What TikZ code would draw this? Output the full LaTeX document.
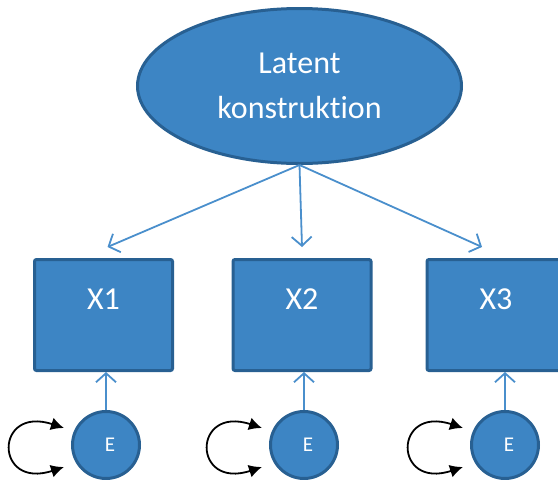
\documentclass[tikz,border=0pt]{standalone}
\usepackage{fontspec}
\setmainfont{Carlito}[Ligatures=NoCommon]
\usepackage{xcolor}
\usetikzlibrary{shapes.geometric,arrows.meta}
\definecolor{boxfill}{RGB}{61,133,196}
\definecolor{boxedge}{RGB}{40,96,146}
\definecolor{arrowblue}{RGB}{74,143,204}

\begin{document}
\begin{tikzpicture}[x=1pt,y=-1pt,
  latent/.style={ellipse,draw=boxedge,fill=boxfill,line width=3pt,minimum width=324pt,minimum height=155pt,inner sep=0pt,align=center,text=white,font=\fontsize{32}{45}\selectfont},
  obs/.style={rectangle,draw=boxedge,fill=boxfill,line width=3pt,rounded corners=2pt,minimum width=138pt,minimum height=111pt,text height=21pt,text depth=33pt,text=white,font=\fontsize{32}{38}\selectfont},
  err/.style={circle,draw=boxedge,fill=boxfill,line width=3pt,minimum size=67pt,inner sep=0pt,text=white,font=\fontsize{21}{25}\selectfont},
  load/.style={draw=arrowblue,line width=1.8pt,-{Straight Barb[length=9pt,width=20pt]}},
  varloop/.style={draw=black,line width=1.8pt,{Latex[length=13pt,width=13pt]}-{Latex[length=13pt,width=13pt]}}]

\useasboundingbox (0,0) rectangle (558,480);

\node[latent](lat) at(299.5,86){Latent\\konstruktion};
\node[obs](x1) at(103.5,315){X1};
\node[obs](x2) at(302,315){X2};
\node[obs](x3) at(496,315){X3};
\node[err](e1) at(106,445){\hspace{8pt}E};
\node[err](e2) at(304,445){\hspace{8pt}E};
\node[err](e3) at(505,445){\hspace{8pt}E};

\draw[load](lat.south)--([xshift=4pt,yshift=11pt]x1.north);
\draw[load](lat.south)--([yshift=11pt]x2.north);
\draw[load](lat.south)--([xshift=-14pt,yshift=11pt]x3.north);

\draw[load](e1.north)--(e1.north |- x1.south);
\draw[load](e2.north)--(e2.north |- x2.south);
\draw[load](e3.north)--(e3.north |- x3.south);

\draw[varloop]([shift={(-42,-17)}]e1.center) .. controls ([shift={(-112,-40)}]e1.center) and ([shift={(-112,45)}]e1.center) .. ([shift={(-42,22)}]e1.center);
\draw[varloop]([shift={(-42,-17)}]e2.center) .. controls ([shift={(-112,-40)}]e2.center) and ([shift={(-112,45)}]e2.center) .. ([shift={(-42,22)}]e2.center);
\draw[varloop]([shift={(-42,-17)}]e3.center) .. controls ([shift={(-112,-40)}]e3.center) and ([shift={(-112,45)}]e3.center) .. ([shift={(-42,22)}]e3.center);

\end{tikzpicture}
\end{document}
